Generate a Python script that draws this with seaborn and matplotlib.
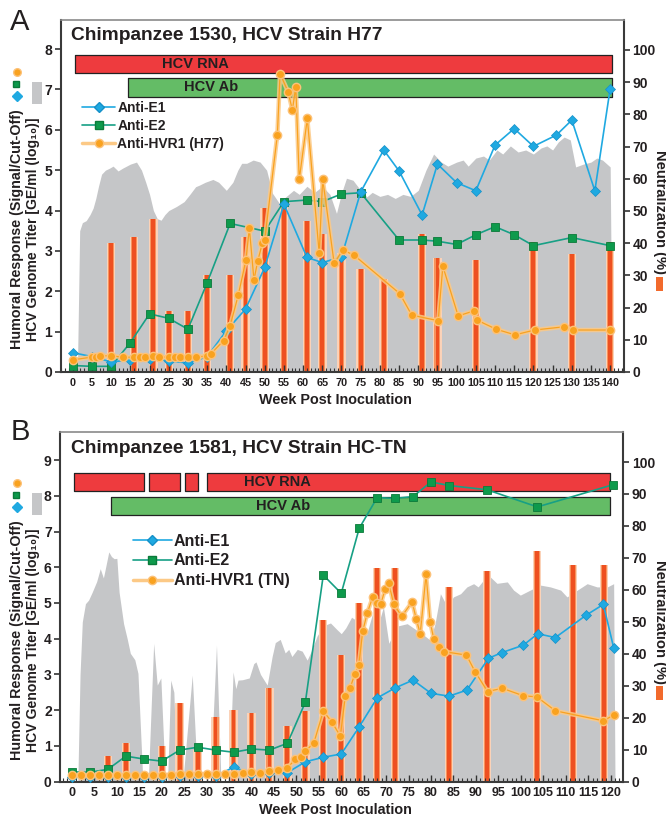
import numpy as np
import pandas as pd
import matplotlib
matplotlib.use("Agg")
import matplotlib.pyplot as plt
import seaborn as sns
from matplotlib.lines import Line2D
from matplotlib.patches import Rectangle
from matplotlib.ticker import MultipleLocator

# ---------------- Panel A data (Chimpanzee 1530, H77) ----------------
a_titer_wk = [1.2, 1.8, 2.5, 3.5, 4.5, 5.3, 6, 6.7, 7.5, 8.5, 9.6, 10.5, 11.8, 13, 14, 15, 16.6, 17.9, 19, 20, 21,
              22, 23, 24, 25, 27, 29, 30.5, 32, 33, 34.5, 36.5, 38, 40, 41.7, 43, 44, 45.3, 47, 48.8, 50.5, 52,
              53.8, 55, 57.5, 59, 61, 63, 65, 67, 68.7, 70, 71.3, 73, 75, 76.6, 78, 80, 82, 84, 86, 88, 90, 92,
              94, 96, 97.7, 100, 101.7, 103, 105, 107, 108.5, 110.5, 112, 114, 116, 118, 120, 122, 123.5, 125,
              126.5, 128, 129.6, 131, 133, 135, 136.5, 138, 140, 140.5]
a_titer = [0, 3.5, 3.7, 3.75, 3.9, 4.06, 4.3, 4.6, 4.9, 5.0, 5.05, 5.1, 4.98, 5.05, 5.1, 5.15, 5.2, 5.0, 4.7, 4.4, 4.0,
           3.8, 3.76, 3.9, 4.0, 4.1, 4.22, 4.4, 4.59, 4.63, 4.7, 4.77, 4.7, 4.5, 4.7, 5.0, 5.17, 5.17, 5.25, 5.2, 5.0,
           4.43, 4.18, 4.3, 4.5, 4.4, 4.6, 4.45, 4.6, 4.4, 3.93, 4.43, 4.8, 4.75, 4.5, 4.34, 4.45, 4.35, 4.4, 4.3,
           4.4, 4.35, 4.5, 5.0, 5.4, 5.2, 5.1, 5.2, 5.25, 5.1, 5.3, 5.35, 5.25, 5.5, 5.4, 5.6, 5.45, 5.5, 5.4, 5.55,
           5.6, 5.5, 5.7, 5.82, 5.75, 5.08, 5.15, 5.2, 5.3, 5.25, 5.08, 0]

a_neut_wk = [10, 16, 21, 25, 30, 35, 41, 45, 50, 55, 61, 65, 70, 75, 81, 91, 95, 105, 120, 130, 140]
a_neut = [40, 42, 47.6, 19, 19, 30, 30, 42, 51, 52, 47, 43, 37, 32, 29, 43, 35.5, 34.8, 40.5, 36.6, 40.5]

a_e1_wk = [0, 5, 10, 15, 20, 25, 30, 35, 40, 45, 50, 55, 61, 65, 70, 75, 81, 85, 91, 95, 100, 105, 110, 115,
           120, 126, 130, 136, 140]
a_e1 = [0.48, 0.38, 0.25, 0.3, 0.32, 0.28, 0.22, 0.38, 1.02, 1.56, 2.59, 4.16, 2.84, 2.71, 2.85, 4.46, 5.5, 4.98,
        3.89, 5.15, 4.69, 4.49, 5.62, 6.03, 5.59, 5.87, 6.24, 4.49, 7.02]

a_e2_wk = [0, 5, 10, 15, 20, 25, 30, 35, 41, 50, 55, 61, 65, 70, 75, 85, 91, 95, 100, 105, 110, 115, 120, 130, 140]
a_e2 = [0.16, 0.14, 0.14, 0.73, 1.44, 1.33, 1.06, 2.21, 3.68, 3.49, 4.22, 4.26, 4.22, 4.41, 4.44, 3.27, 3.27, 3.24,
        3.16, 3.4, 3.6, 3.4, 3.13, 3.33, 3.13]

a_hvr_wk = [0, 5, 6, 7, 10, 13, 16, 17.5, 18.7, 21, 22.5, 25, 26.5, 28, 30, 32.2, 35, 36, 39.3, 41, 43.1, 45.1, 46,
            47.2, 48.2, 49.4, 50, 53.3, 54, 56.1, 57.2, 58.1, 59, 61.1, 64.2, 65.1, 68.1, 70.3, 73.2, 85.2, 88.3,
            95.2, 96.4, 100.4, 104.4, 105.2, 110.3, 115.2, 120.3, 128, 130.3, 140]
a_hvr = [0.3, 0.37, 0.38, 0.4, 0.4, 0.37, 0.36, 0.37, 0.38, 0.4, 0.38, 0.36, 0.36, 0.36, 0.38, 0.37, 0.4, 0.45,
         0.78, 1.15, 1.9, 2.77, 3.56, 2.28, 2.76, 3.19, 3.27, 5.88, 7.39, 6.94, 6.49, 7.06, 4.77, 6.28, 2.94, 4.78,
         2.69, 3.02, 2.9, 1.94, 1.41, 1.27, 2.62, 1.39, 1.51, 1.29, 1.06, 0.92, 1.04, 1.12, 1.04, 1.04]

a_rna = [(0.5, 140.4)]
a_ab = [(14.3, 140.4)]

# ---------------- Panel B data (Chimpanzee 1581, HC-TN) ----------------
b_titer_wk = [1.3, 1.8, 2.3, 3, 3.7, 4.5, 5.5, 6.3, 7, 7.5, 8.2, 8.8, 9.4, 10, 10.5, 11.5, 12.3, 13, 14, 14.7,
              15.8, 17, 18.2, 19, 19.8, 20.8, 21.3, 22, 22.7, 23.4, 24.7, 26.8, 28, 30.8, 32.2, 33.2, 35, 35.9,
              36.5, 37, 38, 39.5, 40.5, 41, 42, 43.5, 44.6, 45.3, 46.4, 47.5, 48.3, 49, 50.2, 51.3, 52.4, 53.5,
              54.6, 56, 57.6, 59, 60, 61, 62.3, 63.5, 64.5, 65.6, 67.2, 68.5, 69.4, 70.6, 72.4, 74.7, 76.9, 78.4,
              79.8, 80.9, 82.1, 83.6, 85, 86.6, 88, 89.5, 90.5, 91.7, 93.2, 94.7, 97, 98.4, 99.9, 102.1, 104.4,
              106.6, 108.9, 110.3, 112.6, 114.8, 117, 119.3, 120.7, 121]
b_titer = [0, 3.0, 4.47, 4.98, 5.08, 5.3, 5.6, 5.96, 5.7, 6.0, 6.43, 6.3, 6.24, 6.25, 5.3, 4.42, 4.0, 3.59, 3.41,
           3.03, 0, 0, 3.87, 2.7, 2.9, 0, 0, 2.84, 2.5, 0, 0, 2.98, 0, 0, 3.82, 0, 0, 3.07, 2.6, 2.84, 2.85, 2.9,
           3.3, 3.35, 3.0, 2.7, 3.5, 3.89, 3.98, 3.6, 3.7, 3.5, 3.7, 3.65, 3.4, 3.7, 4.07, 4.36, 4.44, 4.26, 4.14,
           4.3, 4.6, 4.5, 4.3, 4.1, 4.8, 4.5, 4.89, 3.87, 4.35, 4.42, 4.23, 4.1, 3.96, 4.42, 5.26, 4.9, 5.17, 5.26,
           5.45, 5.54, 5.45, 5.64, 5.73, 5.55, 5.59, 5.36, 5.22, 5.36, 5.5, 5.45, 5.36, 5.17, 5.36, 5.54, 5.45,
           5.45, 5.54, 0]

b_neut_wk = [8, 12, 20, 24, 28, 32, 36, 40, 44, 48, 52, 56, 60, 64, 68, 72, 84, 92.5, 103.6, 111.6, 118.5]
b_neut = [8, 12.2, 11.2, 24.5, 10, 20.3, 22.5, 21.3, 29.3, 17.3, 22, 50.6, 39.7, 55.9, 66.8, 66.8, 60.8, 65.9,
          72, 67.9, 67.9]

b_e1_wk = [0, 4, 8, 12, 16, 20, 24, 28, 32, 36, 40, 44, 48, 52, 56, 60, 64, 68, 72, 76, 80, 84, 88, 92.8, 95.8,
           100.6, 103.8, 107.7, 114.6, 118.4, 120.7]
b_e1 = [0.12, 0.12, 0.12, 0.12, 0.12, 0.14, 0.15, 0.15, 0.15, 0.4, 0.22, 0.24, 0.25, 0.55, 0.68, 0.77, 1.53, 2.34,
        2.62, 2.84, 2.47, 2.39, 2.56, 3.45, 3.61, 3.82, 4.14, 4.03, 4.66, 4.96, 3.75]

b_e2_wk = [0, 4, 8, 12, 16, 20, 24, 28, 32, 36, 40, 44, 48, 52, 56, 60, 64, 68, 72, 76, 80, 84, 92.5, 103.7, 120.5]
b_e2 = [0.27, 0.26, 0.34, 0.71, 0.63, 0.57, 0.88, 0.96, 0.88, 0.82, 0.91, 0.88, 1.07, 2.22, 5.78, 5.27, 7.09,
        7.95, 7.93, 7.98, 8.39, 8.29, 8.17, 7.69, 8.31]

b_hvr_wk = [0, 2, 4, 6, 8, 10, 12, 14, 16, 18, 20, 22, 24, 26, 28, 30, 32, 34, 36, 38, 40, 42, 44, 46, 48, 49.8,
            51, 52, 53.9, 56, 57.9, 59.8, 60.9, 62, 63, 63.9, 64.8, 65.8, 67, 68, 68.8, 69.8, 70.6, 71.7, 73.5,
            75.8, 76.7, 77.6, 78.9, 79.8, 80.6, 81.7, 82.8, 87.9, 89.8, 92.6, 95.9, 100.6, 103.6, 107.7, 118.4,
            120.7]
b_hvr = [0.17, 0.17, 0.17, 0.17, 0.18, 0.18, 0.17, 0.17, 0.17, 0.17, 0.17, 0.19, 0.22, 0.2, 0.2, 0.2, 0.2, 0.21,
         0.22, 0.24, 0.26, 0.25, 0.29, 0.32, 0.38, 0.63, 0.68, 0.85, 1.08, 1.97, 1.67, 1.27, 2.39, 2.63, 3.0, 3.26,
         4.22, 4.72, 5.16, 5.0, 4.96, 5.4, 5.55, 4.96, 4.63, 5.03, 4.56, 4.14, 5.8, 4.48, 4.0, 3.76, 3.64, 3.54,
         3.08, 2.52, 2.61, 2.4, 2.37, 1.98, 1.7, 1.86]

b_rna = [(0.4, 16.1), (17.1, 24.0), (25.1, 28.0), (30.1, 119.9)]
b_ab = [(8.6, 119.9)]

# ---------------- styling ----------------
sns.set_theme(style="ticks")
plt.rcParams['font.family'] = ['Liberation Sans', 'DejaVu Sans']
plt.rcParams['font.weight'] = 'bold'
plt.rcParams['axes.labelweight'] = 'bold'

C_GRAY = '#c5c6c8'
C_BLUE = '#1fa9e1'
C_GREEN = '#0e9a4c'
C_GREENLINE = '#17a085'
C_ORANGE = '#f9a21f'
C_ORANGE_GLOW = '#fcc986'
C_RED = '#ee3b3e'
C_ABGREEN = '#64bc66'
TXT = '#231f20'

W, H = 666, 819
fig = plt.figure(figsize=(W / 100, H / 100), dpi=100)


def fx(px):
    return px / W


def fy(py):
    return 1 - py / H


def panel(rect, xlim, ylim_left, ylim_right, yticks_left, xticks_max,
          titer_wk, titer, neut_wk, neut, e1_wk, e1, e2_wk, e2, hvr_wk, hvr,
          rna, ab, rna_y, ab_y, rna_text_x, ab_text_x, title, title_y, hvr_label,
          bar_w, leg_anchor, leg_fs, xtick_fs):
    ax = fig.add_axes(rect)
    ax2 = ax.twinx()
    ax3 = ax.twinx()
    ax3.set_zorder(1)
    ax2.set_zorder(2)
    ax.set_zorder(3)
    ax.patch.set_visible(False)
    ax2.patch.set_visible(False)
    ax3.patch.set_facecolor('white')

    # gray genome titer area
    ax3.fill_between(titer_wk, titer, 0, color=C_GRAY, lw=0)
    ax3.set_ylim(*ylim_left)
    ax3.set_xlim(*xlim)
    ax3.set_yticks([])
    for s in ax3.spines.values():
        s.set_visible(False)

    # neutralization bars (three layers for the glow)
    ax2.bar(neut_wk, neut, width=bar_w * 2.2, color='#fbd2b8', lw=0, zorder=1)
    ax2.bar(neut_wk, neut, width=bar_w * 1.55, color='#f7935c', lw=0, zorder=2)
    ax2.bar(neut_wk, neut, width=bar_w, color='#ee5020', lw=0, zorder=3)
    ax2.set_ylim(*ylim_right)
    ax2.set_yticks(np.arange(0, 101, 10))
    ax2.tick_params(axis='y', direction='out', length=4, width=1.2, colors='#333333',
                    labelsize=10, labelcolor=TXT, pad=2)
    for k in ['left', 'top', 'bottom']:
        ax2.spines[k].set_visible(False)
    ax2.spines['right'].set_color('#3a3a3a')
    ax2.spines['right'].set_linewidth(1.5)

    # status bars
    ax.broken_barh([(a, b - a) for a, b in rna], (rna_y[0], rna_y[1] - rna_y[0]),
                   facecolors=C_RED, edgecolors='#222222', linewidth=0.9, zorder=2)
    ax.broken_barh([(a, b - a) for a, b in ab], (ab_y[0], ab_y[1] - ab_y[0]),
                   facecolors=C_ABGREEN, edgecolors='#222222', linewidth=0.9, zorder=2)
    ax.text(rna_text_x, (rna_y[0] + rna_y[1]) / 2, 'HCV RNA', ha='center', va='center',
            fontsize=10.5, fontweight='bold', color=TXT, zorder=3)
    ax.text(ab_text_x, (ab_y[0] + ab_y[1]) / 2, 'HCV Ab', ha='center', va='center',
            fontsize=10.5, fontweight='bold', color=TXT, zorder=3)

    # series
    d_e2 = pd.DataFrame({'week': e2_wk, 'val': e2})
    d_e1 = pd.DataFrame({'week': e1_wk, 'val': e1})
    d_hv = pd.DataFrame({'week': hvr_wk, 'val': hvr})
    sns.lineplot(data=d_e2, x='week', y='val', ax=ax, estimator=None, sort=False, color=C_GREENLINE,
                 linewidth=1.2, marker='s', markersize=5.5, markerfacecolor=C_GREEN,
                 markeredgecolor='#0b7a3a', markeredgewidth=0.6, zorder=5, legend=False)
    sns.lineplot(data=d_e1, x='week', y='val', ax=ax, estimator=None, sort=False, color=C_BLUE,
                 linewidth=1.2, marker='D', markersize=5, markerfacecolor=C_BLUE,
                 markeredgecolor='#1590c8', markeredgewidth=0.5, zorder=6, legend=False)
    sns.lineplot(data=d_hv, x='week', y='val', ax=ax, estimator=None, sort=False, color=C_ORANGE_GLOW,
                 linewidth=3.2, alpha=0.85, zorder=7, legend=False)
    sns.lineplot(data=d_hv, x='week', y='val', ax=ax, estimator=None, sort=False, color=C_ORANGE,
                 linewidth=0.9, marker='o', markersize=6, markerfacecolor=C_ORANGE,
                 markeredgecolor='#fcc27a', markeredgewidth=1.0, zorder=8, legend=False)

    ax.set_xlim(*xlim)
    ax.set_ylim(*ylim_left)
    ax.set_yticks(yticks_left)
    ax.set_xticks(np.arange(0, xticks_max + 1, 5))
    ax.xaxis.set_minor_locator(MultipleLocator(1))
    ax.set_xlabel('')
    ax.set_ylabel('')
    ax.tick_params(axis='y', direction='out', length=4, width=1.2, colors='#333333',
                   labelsize=10, labelcolor=TXT, pad=2)
    ax.tick_params(axis='x', which='major', direction='in', length=5, width=1.0, colors='#333333',
                   labelsize=xtick_fs, labelcolor=TXT, pad=4)
    ax.tick_params(axis='x', which='minor', direction='in', length=3, width=0.8, colors='#333333')
    for lab in ax.get_xticklabels():
        lab.set_fontweight('bold')
    ax.spines['right'].set_visible(False)
    ax.spines['left'].set_color('#3a3a3a')
    ax.spines['left'].set_linewidth(1.5)
    ax.spines['bottom'].set_color('#3a3a3a')
    ax.spines['bottom'].set_linewidth(1.5)
    ax.spines['top'].set_color('#8a8a8a')
    ax.spines['top'].set_linewidth(1.2)

    ax.text(0.019, title_y, title, transform=ax.transAxes, ha='left', va='center',
            fontsize=13.8, fontweight='bold', color=TXT, zorder=10)

    handles = [
        Line2D([], [], color=C_BLUE, lw=1.2, marker='D', markersize=5, markerfacecolor=C_BLUE,
               markeredgecolor='#1590c8'),
        Line2D([], [], color=C_GREENLINE, lw=1.2, marker='s', markersize=5.5, markerfacecolor=C_GREEN,
               markeredgecolor='#0b7a3a'),
        Line2D([], [], color=C_ORANGE_GLOW, lw=2.5, marker='o', markersize=6, markerfacecolor=C_ORANGE,
               markeredgecolor='#fcc27a'),
    ]
    leg = ax.legend(handles, ['Anti-E1', 'Anti-E2', hvr_label], loc='upper left', bbox_to_anchor=leg_anchor,
                    frameon=False, fontsize=leg_fs, handlelength=2.4, handletextpad=0.15,
                    labelspacing=0.3, borderpad=0, borderaxespad=0)
    for t in leg.get_texts():
        t.set_fontweight('bold')
        t.set_color(TXT)
    leg.set_zorder(12)
    return ax


# Panel A
rectA = [fx(60.5), fy(372), fx(624) - fx(60.5), fy(20) - fy(372)]
panel(rectA, (-3.2, 143.6), (0, 8.72), (0, 109.3), range(0, 9), 140,
      a_titer_wk, a_titer, a_neut_wk, a_neut, a_e1_wk, a_e1, a_e2_wk, a_e2, a_hvr_wk, a_hvr,
      a_rna, a_ab, (7.41, 7.86), (6.81, 7.29), 32, 36,
      'Chimpanzee 1530, HCV Strain H77', 0.957, 'Anti-HVR1 (H77)', 1.0, (0.038, 0.77), 10, 7.8)

# Panel B
rectB = [fx(60), fy(781.5), fx(623.3) - fx(60), fy(432.3) - fy(781.5)]
panel(rectB, (-2.67, 122.85), (0, 9.78), (0, 109.3), range(0, 10), 120,
      b_titer_wk, b_titer, b_neut_wk, b_neut, b_e1_wk, b_e1, b_e2_wk, b_e2, b_hvr_wk, b_hvr,
      b_rna, b_ab, (8.13, 8.64), (7.45, 7.97), 45.7, 47,
      'Chimpanzee 1581, HCV Strain HC-TN', 0.955, 'Anti-HVR1 (TN)', 0.85, (0.13, 0.71), 11.5, 9)

# panel letters
fig.text(fx(20), fy(22), 'A', ha='center', va='center', fontsize=21, fontweight='normal', color=TXT)
fig.text(fx(20), fy(432), 'B', ha='center', va='center', fontsize=21, fontweight='normal', color=TXT)

# x labels
for yc in (400, 810):
    fig.text(fx(335), fy(yc), 'Week Post Inoculation', ha='center', va='center', fontsize=10.4,
             fontweight='bold', color=TXT)

# left y labels with symbol keys
for cy, top in ((229, 72), (640, 483)):
    fig.text(fx(17), fy(cy), 'Humoral Response (Signal/Cut-Off)', rotation=90, ha='center', va='center',
             fontsize=10.3, fontweight='bold', color=TXT)
    fig.text(fx(33), fy(cy), 'HCV Genome Titer [GE/ml (log\u2081\u2080)]', rotation=90, ha='center',
             va='center', fontsize=10.1, fontweight='bold', color=TXT,
             family=['Liberation Sans', 'DejaVu Sans'])
    fig.add_artist(Line2D([fx(17)], [fy(top)], marker='o', markersize=5.5, color=C_ORANGE,
                          markeredgecolor='#fcc27a', transform=fig.transFigure))
    fig.add_artist(Line2D([fx(16)], [fy(top + 12)], marker='s', markersize=5, color=C_GREEN,
                          markeredgecolor='#0b7a3a', transform=fig.transFigure))
    fig.add_artist(Line2D([fx(17)], [fy(top + 24)], marker='D', markersize=5, color=C_BLUE,
                          transform=fig.transFigure))
    fig.add_artist(Rectangle((fx(32), fy(top + 32)), fx(10), fy(top + 10) - fy(top + 32),
                             color=C_GRAY, lw=0, transform=fig.transFigure))

# right y labels with bar key
for cy, my in ((212, 284), (622, 693)):
    fig.text(fx(660), fy(cy), 'Neutralization (%)', rotation=270, ha='center', va='center',
             fontsize=10.6, fontweight='bold', color=TXT)
    fig.add_artist(Rectangle((fx(656), fy(my + 7)), fx(7), fy(my - 7) - fy(my + 7),
                             color='#f26a2c', lw=0, transform=fig.transFigure))

fig.savefig('out.png', dpi=100)
